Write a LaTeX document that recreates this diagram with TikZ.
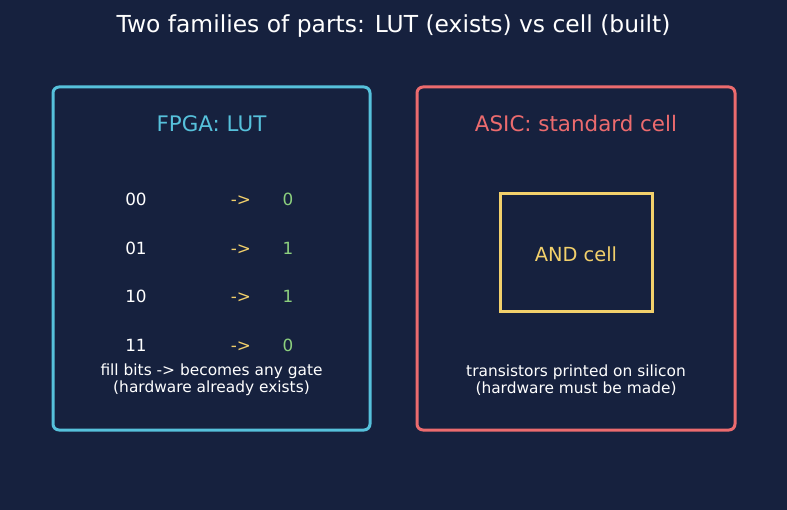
\documentclass[tikz,border=0pt]{standalone}
\usepackage{fontspec}
\setmainfont{DejaVu Sans}
\usepackage{tikz}
\usetikzlibrary{positioning}

\definecolor{bgnavy}{HTML}{16213E}
\definecolor{lutcyan}{HTML}{56C1DB}
\definecolor{asicred}{HTML}{EC6B6E}
\definecolor{cellgold}{HTML}{F2D06B}
\definecolor{bitgreen}{HTML}{8CCF7E}

\tikzset{
    panel/.style={rounded corners=6pt, line width=3pt, fill=bgnavy},
    bit/.style={anchor=base, font=\fontsize{16.8}{19}\selectfont},
    bitin/.style={bit, text=white},
    bitarrow/.style={bit, text=cellgold},
    bitout/.style={bit, text=bitgreen},
    note/.style={text=white, align=center, font=\fontsize{15.4}{16.5}\selectfont}
}

\begin{document}
\begin{tikzpicture}[x=1pt,y=-1pt]

\fill[bgnavy] (0,0) rectangle (787,510);
\useasboundingbox (0,0) rectangle (787,510);

\node[text=white, font=\fontsize{23.4}{27}\selectfont] (title) at (393.5,26)
    {Two families of parts: LUT (exists) vs cell (built)};

% FPGA panel
\draw[panel, draw=lutcyan] (53,87) rectangle (370,430);
\node[text=lutcyan, font=\fontsize{21.4}{25}\selectfont] (lut) at (211.5,124) {FPGA: LUT};

\foreach \inp/\outp [count=\i] in {00/0,01/1,10/1,11/0}{
    \node[bitin] (in\i) at (136,{206+48.5*(\i-1)}) {\inp};
    \node[bitarrow] (arr\i) at (241,{206+48.5*(\i-1)}) {->};
    \node[bitout] (out\i) at (288,{206+48.5*(\i-1)}) {\outp};
}

\node[note] (lutnote) at (211.5,380) {fill bits -> becomes any gate\\(hardware already exists)};

% ASIC panel
\draw[panel, draw=asicred] (417,87) rectangle (735,430);
\node[text=asicred, font=\fontsize{21.4}{25}\selectfont] (asic) at (576,124) {ASIC: standard cell};

\draw[cellgold, line width=3pt] (500,194) rectangle (652,312);
\node[text=cellgold, font=\fontsize{19.4}{23}\selectfont] (andcell) at (576,254) {AND cell};

\node[note] (asicnote) at (576,380) {transistors printed on silicon\\(hardware must be made)};

\end{tikzpicture}
\end{document}
